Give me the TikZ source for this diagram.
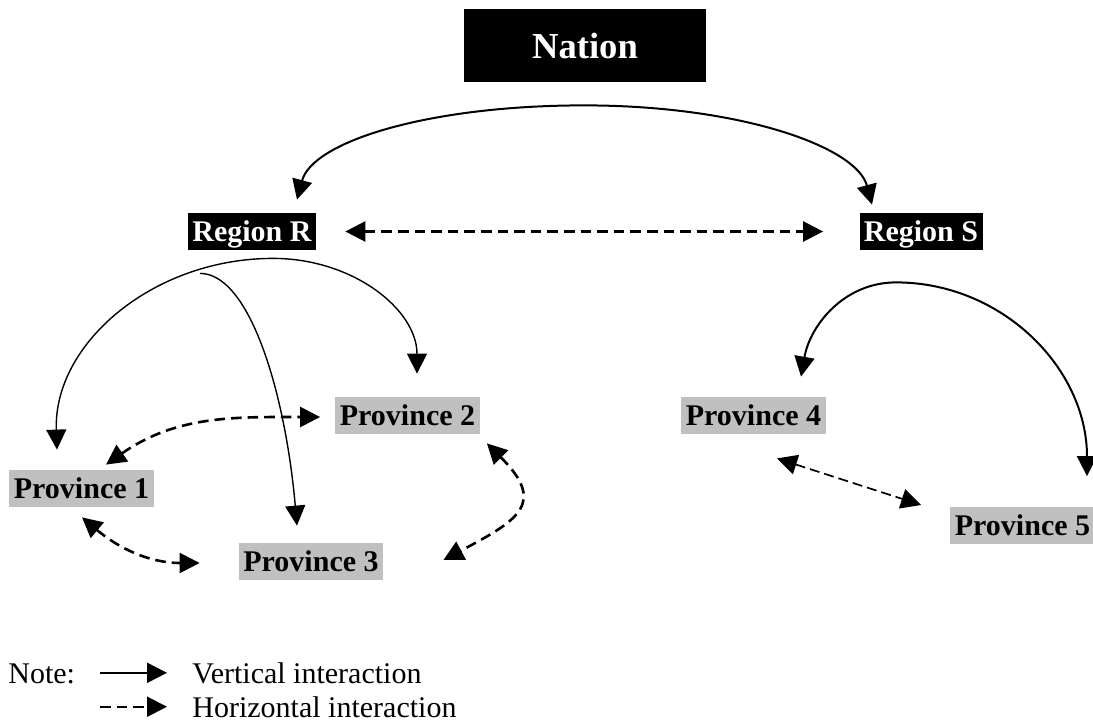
\documentclass[tikz,border=0pt]{standalone}
\usepackage{fontspec}
\setmainfont{Liberation Serif}
\usetikzlibrary{arrows.meta,calc}
\definecolor{provgray}{RGB}{192,192,192}
\tikzstyle{nationbox}=[fill=black, text=white, font=\fontsize{18.3}{22}\selectfont\bfseries,
	minimum width=121pt, minimum height=36.5pt, text depth=0pt]
\tikzstyle{regionbox}=[fill=black, text=white, font=\fontsize{15}{18}\selectfont\bfseries,
	inner xsep=2.2pt, inner ysep=0pt, minimum height=18.5pt, text depth=0pt]
\tikzstyle{provbox}=[fill=provgray, font=\fontsize{15}{18}\selectfont\bfseries,
	inner xsep=2.2pt, inner ysep=0pt, minimum height=18.5pt, text depth=0pt]
\tikzstyle{notetext}=[anchor=base west, inner sep=0, font=\fontsize{15}{18}\selectfont]
\tikzstyle{vert}=[->, line width=0.7pt]
\tikzstyle{horiz}=[<->, line width=1.3pt, dash pattern=on 5.3pt off 3pt]

\begin{document}
\begin{tikzpicture}[x=0.5pt, y=0.5pt, >={Triangle[length=10pt, width=10pt]}]
	\useasboundingbox (0,0) rectangle (1093,724);

	\node[nationbox] (nation) at (585,678.5) {Nation};
	\node[regionbox] (regR) at (252,492.5) {Region R};
	\node[regionbox] (regS) at (921,492.5) {Region S};

	\node[provbox] (prov1) at (  81.5,235.5) {Province 1};
	\node[provbox] (prov2) at ( 407.5,308.5) {Province 2};
	\node[provbox] (prov3) at ( 311  ,162.5) {Province 3};
	\node[provbox] (prov4) at ( 753.5,308.5) {Province 4};
	\node[provbox] (prov5) at (1022.5,199  ) {Province 5};

	% nation to regions
	\coordinate (nfork) at ($(nation.south)+(-1,-23)$);
	\draw[vert, line width=1pt] (nfork) to [out=180, in=75, out distance=78pt, in distance=30pt] ($(regR.north)+(45,13)$);
	\draw[vert, line width=1pt] (nfork) to [out=0, in=105, out distance=78pt, in distance=30pt] ($(regS.north)+(-49,8)$);

	% region R to its provinces
	\coordinate (rfork) at ($(regR.south)+(21,-8)$);
	\coordinate (rstem) at ($(regR.south)+(-52,-23)$);
	\draw[vert] (rfork) to [out=180, in=92, out distance=60pt, in distance=53pt] ($(prov1.north)+(-24.5,20)$);
	\draw[vert] (rfork) to [out=0, in=90, out distance=40pt, in distance=32pt] ($(prov2.north)+(9.5,23)$);
	\draw[vert] (rstem) to [out=0, in=95, out distance=25pt, in distance=66pt] ($(prov3.north)+(-14,17)$);

	% region S to its provinces
	\coordinate (sfork) at ($(regS.south)+(-25,-32)$);
	\draw[vert, line width=1pt] (sfork) to [out=180, in=80, out distance=26pt, in distance=26pt] ($(prov4.north)+(47.5,20)$);
	\draw[vert, line width=1pt] (sfork) to [out=0, in=90, out distance=53pt, in distance=54pt] ($(prov5.north)+(64.5,30)$);

	% horizontal links
	\draw[horiz, shorten <=14.5pt, shorten >=18pt] (regR) -- (regS);
	\draw[horiz] ($(prov1.north)+(24.5,5)$) to [out=35, in=180] ($(prov2.west)+(-15,-1.5)$);
	\draw[horiz] ($(prov1.south)+(0.5,-10)$) to [out=-40, in=180] ($(prov3.west)+(-39,-1.5)$);
	\draw[horiz] ($(prov2.south east)+(7,-9)$) to [out=-45, in=28, distance=42.5pt] ($(prov3.east)+(60,1.5)$);
	\draw[horiz, line width=0.85pt, dash pattern=on 5pt off 2.5pt] ($(prov4.south)+(23.5,-24)$) -- ($(prov5.west)+(-29,20)$);

	% note
	\node[notetext] (note) at (8,41) {Note:};
	\node[notetext] (vlabel) at (192,41) {Vertical interaction};
	\node[notetext] (hlabel) at (192,7) {Horizontal interaction};
	\draw[vert, line width=1pt] ([xshift=-46pt]vlabel.west) -- ([xshift=-12.5pt]vlabel.west);
	\draw[horiz, ->, line width=1pt] ([xshift=-46pt]hlabel.west) -- ([xshift=-12.5pt]hlabel.west);
\end{tikzpicture}
\end{document}
